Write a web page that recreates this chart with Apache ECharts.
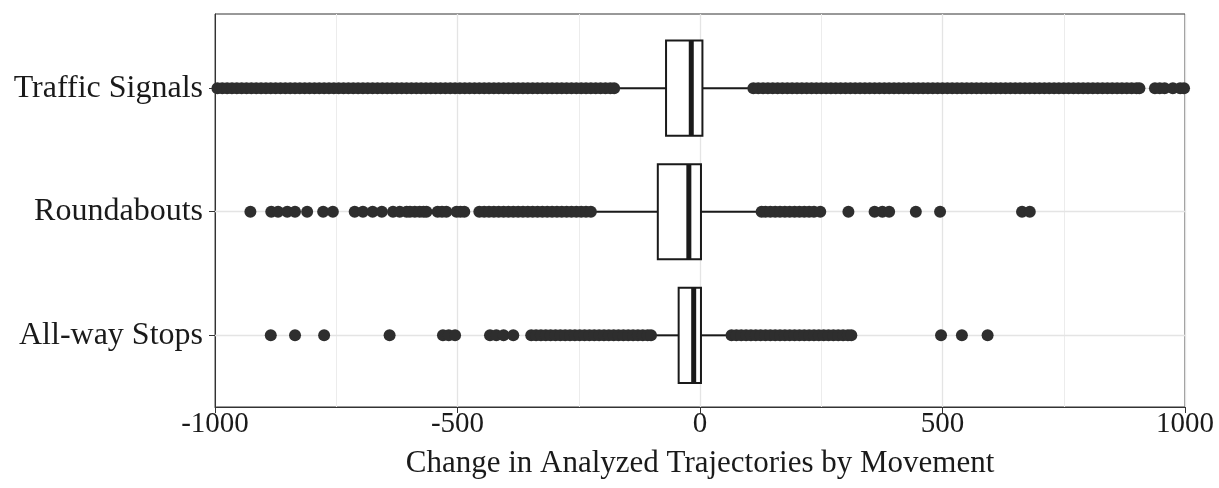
<!DOCTYPE html>
<html>
<head>
<meta charset="utf-8">
<script src="https://cdn.jsdelivr.net/npm/echarts@6/dist/echarts.min.js"></script>
<style>
  html, body { margin:0; padding:0; background:#fff; }
  #main { width:1219px; height:488px; }
</style>
</head>
<body>
<div id="main"></div>
<script>
// categories, top to bottom (position 0, 1, 2 on the y scale)
var categories = ['Traffic Signals', 'Roundabouts', 'All-way Stops'];
var xTicks = [-1000, -500, 0, 500, 1000];
var yTicks = [0, 1, 2];

// box stats: [whisker low, Q1, median, Q3, whisker high]
var boxTS = [-170, -70, -18, 5, 100];
var boxRB = [-215, -87, -23, 2, 120];
var boxAW = [-95, -44, -13, 2, 58];

// outliers
var outTS = [-995,-985,-975,-965,-955,-945,-935,-925,-915,-905,-895,-885,-875,-865,-855,-845,-835,-825,-815,-805,
  -795,-785,-775,-765,-755,-745,-735,-725,-715,-705,-695,-685,-675,-665,-655,-645,-635,-625,-615,-605,
  -595,-585,-575,-565,-555,-545,-535,-525,-515,-505,-495,-485,-475,-465,-455,-445,-435,-425,-415,-405,
  -395,-385,-375,-365,-355,-345,-335,-325,-315,-305,-295,-285,-275,-265,-255,-245,-235,-225,-215,-205,
  -195,-185,-177,
  110,120,130,140,150,160,170,180,190,200,210,220,230,240,250,260,270,280,290,300,
  310,320,330,340,350,360,370,380,390,400,410,420,430,440,450,460,470,480,490,500,
  510,520,530,540,550,560,570,580,590,600,610,620,630,640,650,660,670,680,690,700,
  710,720,730,740,750,760,770,780,790,800,810,820,830,840,850,860,870,880,890,900,906,
  938,948,958,975,990,998];
var outRB = [-927,-884,-870,-851,-835,-810,-777,-757,-712,-695,-675,-656,-633,-619,-605,-598,-588,-578,-570,-564,
  -541,-532,-523,-502,-494,-486,-455,-445,-435,-425,-415,-405,-395,-385,-375,-365,-355,-345,-335,-325,
  -315,-305,-295,-285,-275,-265,-255,-245,-235,-225,
  127,135,145,155,165,175,185,195,205,215,225,235,248,306,360,376,390,445,495,664,680];
var outAW = [-885,-835,-775,-640,-530,-518,-505,-433,-420,-405,-385,
  -348,-338,-328,-318,-308,-298,-288,-278,-268,-258,-248,-238,-228,-218,-208,-198,-188,-178,-168,-158,
  -148,-138,-128,-118,-108,-101,
  65,75,85,95,105,115,125,135,145,155,165,175,185,195,205,215,225,235,245,255,265,275,285,295,305,312,
  497,540,593];

var boxes = [boxTS, boxRB, boxAW];
var outs = [outTS, outRB, outAW];

var boxData = [];
for (var i = 0; i < boxes.length; i++) {
  boxData.push([i].concat(boxes[i]));
}
var outData = [];
for (var j = 0; j < outs.length; j++) {
  for (var k = 0; k < outs[j].length; k++) {
    outData.push([outs[j][k], j]);
  }
}

var serif = 'Liberation Serif';
var ink = '#1a1a1a';

function renderBox(params, api) {
  var cat = api.value(0);
  var pLo = api.coord([api.value(1), cat]);
  var pQ1 = api.coord([api.value(2), cat]);
  var pMed = api.coord([api.value(3), cat]);
  var pQ3 = api.coord([api.value(4), cat]);
  var pHi = api.coord([api.value(5), cat]);
  var h = api.size([0, 1])[1] * 0.77;
  var y = pQ1[1];
  var st = { stroke: ink, lineWidth: 2, fill: null };
  return {
    type: 'group',
    children: [
      { type: 'line', shape: { x1: pLo[0], y1: y, x2: pQ1[0], y2: y }, style: st },
      { type: 'line', shape: { x1: pQ3[0], y1: y, x2: pHi[0], y2: y }, style: st },
      { type: 'rect', shape: { x: pQ1[0], y: y - h / 2, width: pQ3[0] - pQ1[0], height: h },
        style: { stroke: ink, lineWidth: 2, fill: '#fff' } },
      { type: 'line', shape: { x1: pMed[0], y1: y - h / 2, x2: pMed[0], y2: y + h / 2 },
        style: { stroke: ink, lineWidth: 5 } }
    ]
  };
}

var myChart = echarts.init(document.getElementById('main'));
var option = {
  animation: false,
  backgroundColor: '#fff',
  grid: {
    left: 215, right: 34, top: 14, bottom: 81,
    show: true, borderColor: '#333', borderWidth: 1
  },
  xAxis: {
    type: 'value',
    min: -1000, max: 1000, interval: 500,
    name: 'Change in Analyzed Trajectories by Movement',
    nameLocation: 'middle',
    nameGap: 41,
    nameTextStyle: { fontFamily: serif, fontSize: 31, color: ink },
    axisLine: { show: true, onZero: false, lineStyle: { color: '#333', width: 1 } },
    axisTick: { show: true, length: 6, lineStyle: { color: '#333' } },
    axisLabel: {
      fontFamily: serif, fontSize: 29, color: ink, margin: 3,
      formatter: function (v) { return xTicks.indexOf(v) >= 0 ? String(v) : ''; }
    },
    splitLine: { show: true, lineStyle: { color: '#e4e4e4', width: 1.3 } },
    minorTick: { show: false, splitNumber: 2 },
    minorSplitLine: { show: true, lineStyle: { color: '#ececec', width: 1 } }
  },
  yAxis: {
    type: 'value',
    min: -0.6, max: 2.58,
    inverse: true,
    axisLine: { show: true, onZero: false, lineStyle: { color: '#333', width: 1 } },
    axisTick: { show: true, customValues: yTicks, length: 6, lineStyle: { color: '#333' } },
    axisLabel: {
      customValues: yTicks,
      fontFamily: serif, fontSize: 32, color: ink, margin: 12,
      formatter: function (v) { return categories[Math.round(v)] || ''; }
    },
    splitLine: { show: false }
  },
  series: [
    {
      // horizontal grid lines at category centres
      type: 'scatter',
      data: [],
      z: 1,
      silent: true,
      markLine: {
        z: 1,
        silent: true,
        symbol: 'none',
        animation: false,
        label: { show: false },
        lineStyle: { color: '#e4e4e4', width: 1.3, type: 'solid' },
        data: [ { yAxis: 0 }, { yAxis: 1 }, { yAxis: 2 } ]
      }
    },
    {
      type: 'custom',
      z: 3,
      renderItem: renderBox,
      encode: { x: [1, 2, 3, 4, 5], y: 0 },
      data: boxData
    },
    {
      type: 'scatter',
      z: 4,
      symbolSize: 12,
      itemStyle: { color: '#2e2e2e', opacity: 1 },
      data: outData
    }
  ]
};
myChart.setOption(option);
</script>
</body>
</html>
